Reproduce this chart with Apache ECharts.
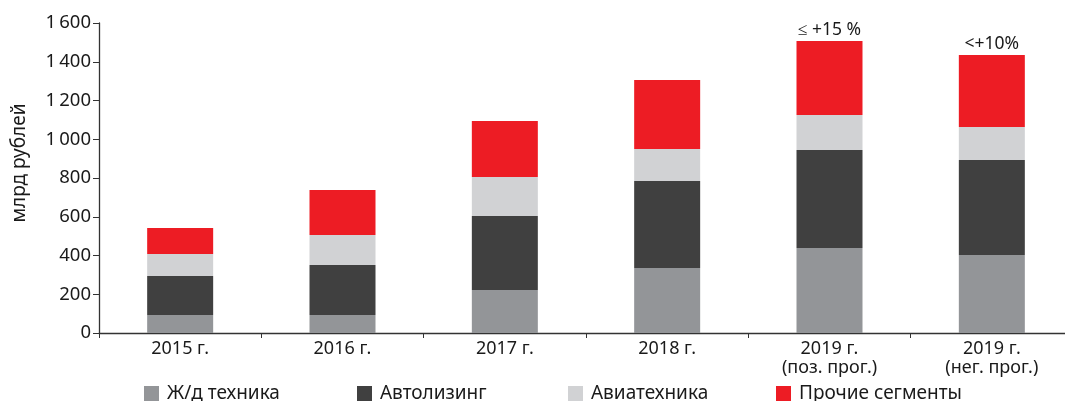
<!DOCTYPE html>
<html><head><meta charset="utf-8">
<script src="https://cdn.jsdelivr.net/npm/echarts@6/dist/echarts.min.js"></script>
<style>html,body{margin:0;padding:0;background:#fff}#c{width:1065px;height:401px}</style>
</head><body><div id="c"></div>
<script>
const categories = ['2015 г.', '2016 г.', '2017 г.', '2018 г.', '2019 г.\n(поз. прог.)', '2019 г.\n(нег. прог.)'];
const seriesNames = ['Ж/д техника', 'Автолизинг', 'Авиатехника', 'Прочие сегменты'];
const rail = [93, 93, 222, 335, 439, 403];
const auto = [201, 258, 382, 450, 506, 490];
const avia = [114, 155, 201, 165, 180, 170];
const other = [134, 232, 289, 356, 382, 372];
const topNotes = ['', '', '', '', '≤ +15 %', '<+10%'];
const yTicks = [0, 200, 400, 600, 800, 1000, 1200, 1400, 1600];
const yAxisTitle = 'млрд рублей';
const colors = ['#939598', '#404040', '#d1d2d4', '#ed1c24'];

const font = 'Noto Sans';
const chart = echarts.init(document.getElementById('c'), null, {renderer: 'canvas'});
const values = [rail, auto, avia, other];
const series = seriesNames.map((n, i) => ({
  name: n, type: 'bar', stack: 'total', barWidth: 66,
  itemStyle: {color: colors[i]},
  data: values[i].map((v, j) => {
    if (i === 3 && topNotes[j]) {
      return {value: v, label: {show: true, position: 'top', distance: 2, formatter: topNotes[j],
        color: '#1a1a1a', fontFamily: font, fontSize: 17.5}};
    }
    return v;
  })
}));
const legendLefts = [144, 357, 568, 776];
const legends = seriesNames.map((n, i) => ({
  data: [n], left: legendLefts[i], top: 384, itemWidth: 15, itemHeight: 15, icon: 'rect',
  itemGap: 0, padding: 0,
  textStyle: {fontFamily: font, fontSize: 19, color: '#1a1a1a', padding: [0,0,0,3]},
  selectedMode: false
}));
chart.setOption({
  animation: false,
  grid: {left: 99, top: 23, width: 974, bottom: 68, containLabel: false, outerBoundsMode: 'none'},
  legend: legends,
  graphic: [{
    type: 'text', x: 20, y: 163, rotation: Math.PI / 2,
    style: {text: yAxisTitle, font: '19px "Noto Sans"', fill: '#1a1a1a', align: 'center', verticalAlign: 'middle'}
  }],
  xAxis: {
    type: 'category', data: categories,
    axisLine: {lineStyle: {color: '#333', width: 1.3}},
    axisTick: {show: true, length: 5, lineStyle: {color: '#333'}},
    axisLabel: {fontFamily: font, fontSize: 18, color: '#1a1a1a', margin: 6, lineHeight: 19}
  },
  yAxis: {
    type: 'value', min: yTicks[0], max: yTicks[yTicks.length - 1], interval: 200,
    axisLine: {show: true, lineStyle: {color: '#333', width: 1.3}},
    axisTick: {show: true, length: 6, lineStyle: {color: '#333'}},
    splitLine: {show: false},
    axisLabel: {fontFamily: font, fontSize: 18.5, color: '#1a1a1a', margin: 8,
      formatter: v => v >= 1000 ? String(v).replace(/(\d)(\d{3})$/, '$1\u2009$2') : String(v)}
  },
  series: series
});
</script></body></html>
